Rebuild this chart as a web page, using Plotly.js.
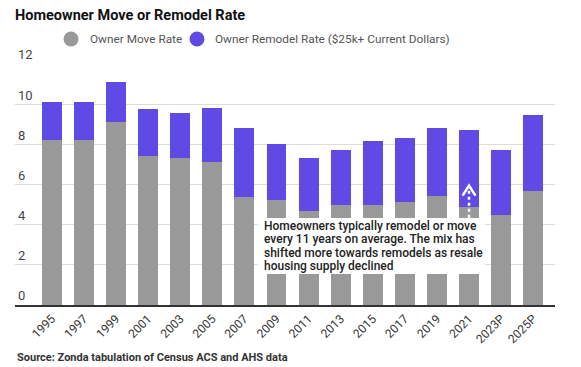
<!DOCTYPE html>
<html>
<head>
<meta charset="utf-8">
<script src="https://cdn.plot.ly/plotly-3.0.1.min.js"></script>
<style>html,body{margin:0;padding:0;background:#fff}#chart{width:581px;height:367px}</style>
</head>
<body>
<div id="chart"></div>
<script>
const years = ["1995","1997","1999","2001","2003","2005","2007","2009","2011","2013","2015","2017","2019","2021","2023P","2025P"];
const moveRate = [8.2,8.2,9.1,7.4,7.3,7.1,5.4,5.25,4.7,5.0,5.0,5.15,5.45,4.9,4.5,5.7];
const remodelRate = [1.9,1.9,2.0,2.35,2.25,2.7,3.4,2.75,2.6,2.7,3.15,3.15,3.35,3.8,3.2,3.75];
const seriesNames = ["Owner Move Rate", "Owner Remodel Rate ($25k+ Current Dollars)"];
const yTicks = [0,2,4,6,8,10,12];
const noteLines = [
  "Homeowners typically remodel or move",
  "every 11 years on average. The mix has",
  "shifted more towards remodels as resale",
  "housing supply declined"
];
const grayC = "#999999", purpleC = "#5f4ae3";
const FONT = "Roboto, 'Open Sans', sans-serif";

const W = 581, H = 367, L = 15, R = 26, T = 64, B = 62;
const plotW = W - L - R, plotH = H - T - B;
const px2paperY = py => (H - B - py) / plotH;
const px2paperX = px => (px - L) / plotW;

const traces = [
  {type:"bar", x: years, y: moveRate, name: seriesNames[0], marker:{color:grayC}, hoverinfo:"skip"},
  {type:"bar", x: years, y: remodelRate, name: seriesNames[1], marker:{color:purpleC}, hoverinfo:"skip"}
];

const idx2021 = years.indexOf("2021");
const shapes = [
  {type:"rect", layer:"above", xref:"paper", yref:"paper",
   x0: px2paperX(258), x1: px2paperX(485), y0: px2paperY(274), y1: px2paperY(218),
   fillcolor:"#ffffff", line:{width:0}},
  {type:"line", layer:"above", xref:"x", yref:"y",
   x0: idx2021, x1: idx2021, y0: 4.35, y1: 5.85,
   line:{color:"#ffffff", width:2.5, dash:"dot"}},
  {type:"path", layer:"above", xref:"x", yref:"y",
   path: `M ${idx2021-0.2},5.45 L ${idx2021},5.95 L ${idx2021+0.2},5.45`,
   line:{color:"#ffffff", width:2.5}}
];

// legend (manual, circles + text)
const legendItems = [{cx:71, tx:88, color:grayC}, {cx:197, tx:213, color:purpleC}];
const annotations = [];
legendItems.forEach((it, i) => {
  shapes.push({type:"circle", xref:"paper", yref:"paper", xsizemode:"pixel", ysizemode:"pixel",
    xanchor: px2paperX(it.cx), yanchor: px2paperY(39), x0:-7.5, x1:7.5, y0:-7.5, y1:7.5,
    fillcolor: it.color, line:{width:0}});
  annotations.push({text: seriesNames[i], xref:"paper", yref:"paper",
    x: px2paperX(it.tx), y: px2paperY(39.5), xanchor:"left", yanchor:"middle", showarrow:false,
    font:{family:FONT, size:11.8, color:"#555"}});
});

const linePx = [226, 239.3, 252.6, 266];
noteLines.forEach((t, i) => annotations.push({
  text: t, xref:"paper", yref:"paper", x: px2paperX(262), y: px2paperY(linePx[i]),
  xanchor:"left", yanchor:"middle", showarrow:false, align:"left",
  font:{family:FONT, size:12, color:"#222", weight:500}
}));
annotations.push({
  text:"Source: Zonda tabulation of Census ACS and AHS data",
  xref:"paper", yref:"paper", x: px2paperX(15), y: px2paperY(357),
  xanchor:"left", yanchor:"middle", showarrow:false,
  font:{family:FONT, size:11, color:"#333", weight:"bold"}
});

const layout = {
  width: W, height: H,
  margin:{l:L, r:R, t:T, b:B, pad:0},
  paper_bgcolor:"#fff", plot_bgcolor:"#fff",
  font:{family:FONT, color:"#333"},
  barmode:"stack", bargap:0.38,
  title:{text:"Homeowner Move or Remodel Rate", xref:"container", yref:"container",
         x: 15/W, xanchor:"left", y: 1 - 15/H, yanchor:"middle",
         font:{family:FONT, size:14.5, color:"#111", weight:"bold"}},
  showlegend:false,
  xaxis:{type:"category", categoryorder:"array", categoryarray: years,
         range:[-1.15, 15.68], tickangle:-45, showgrid:false,
         showline:true, linecolor:"#333", linewidth:2, ticks:"",
         tickfont:{family:FONT, size:12, color:"#333"}, fixedrange:true},
  yaxis:{range:[0,12], tickvals: yTicks, ticktext: yTicks.map(String),
         showgrid:true, gridcolor:"#dddddd", gridwidth:1, zeroline:false,
         ticklabelposition:"inside top", ticklabeloverflow:"allow", ticks:"",
         tickfont:{family:FONT, size:13, color:"#444"}, fixedrange:true},
  shapes, annotations
};

Plotly.newPlot("chart", traces, layout, {displayModeBar:false, staticPlot:true});
</script>
</body>
</html>
